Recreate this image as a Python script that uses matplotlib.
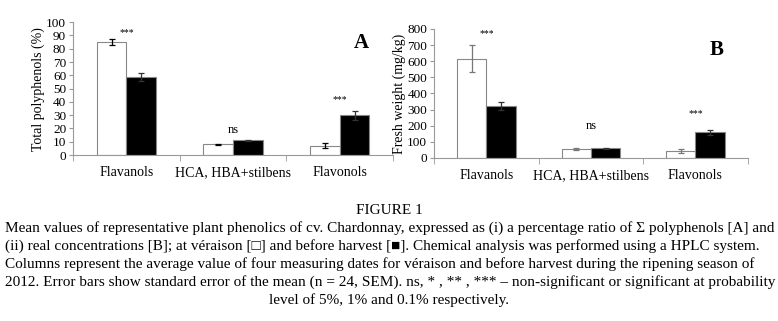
import matplotlib.pyplot as plt
import numpy as np

plt.rcParams['font.family'] = ['Liberation Serif', 'DejaVu Serif']

categories = ['Flavanols', 'HCA, HBA+stilbens', 'Flavonols']

# panel A - percentage of total polyphenols
pct_veraison = [85, 8, 7]
pct_veraison_err = [2, 0.5, 2]
pct_harvest = [59, 11, 30]
pct_harvest_err = [3, 0.4, 3.5]
pct_signif = ['***', 'ns', '***']
pct_signif_y = [89, 14, 38]

# panel B - fresh weight (mg/kg)
fw_veraison = [615, 55, 45]
fw_veraison_err = [85, 5, 12]
fw_harvest = [320, 60, 160]
fw_harvest_err = [25, 4, 15]
fw_signif = ['***', 'ns', '***']
fw_signif_y = [745, 160, 245]

caption_title = 'FIGURE 1'
caption_lines = [
    'Mean values of representative plant phenolics of cv. Chardonnay, expressed as (i) a percentage ratio of \u03a3 polyphenols [A] and',
    '(ii) real concentrations [B]; at v\u00e9raison [\u25a1] and before harvest [\u25a0]. Chemical analysis was performed using a HPLC system.',
    'Columns represent the average value of four measuring dates for v\u00e9raison and before harvest during the ripening season of',
    '2012. Error bars show standard error of the mean (n = 24, SEM). ns, * , ** , *** \u2013 non-significant or significant at probability',
]
caption_last = 'level of 5%, 1% and 0.1% respectively.'


def draw_panel(ax, white, white_err, black, black_err, signif, signif_y,
               ylim, step, ylabel, letter, white_ecolor='black'):
    x = np.arange(len(categories))
    w = 0.28
    ax.bar(x - w / 2, white, w, color='white', edgecolor='#888888', linewidth=0.8)
    ax.bar(x + w / 2, black, w, color='black', edgecolor='#888888', linewidth=0.8)
    ax.errorbar(x - w / 2, white, yerr=white_err, fmt='none', ecolor=white_ecolor,
                elinewidth=0.9, capsize=2.5, capthick=0.9)
    ax.errorbar(x + w / 2, black, yerr=black_err, fmt='none', ecolor='#333333',
                elinewidth=0.9, capsize=2.5, capthick=0.9)
    for xi, s, yy in zip(x, signif, signif_y):
        ax.text(xi, yy, s, ha='center', va='bottom', fontsize=9 if s == 'ns' else 7)
    ax.set_xlim(-0.5, len(categories) - 0.5)
    ax.set_ylim(*ylim)
    ax.set_yticks(np.arange(ylim[0], ylim[1] + 1, step))
    ax.set_xticks(x)
    ax.set_xticklabels(categories, fontsize=10)
    ax.set_xticks(np.arange(-0.5, len(categories)), minor=True)
    ax.tick_params(axis='x', which='major', length=0, pad=8)
    ax.tick_params(axis='x', which='minor', length=4, color='#999999', direction='out')
    ax.tick_params(axis='y', length=3, color='#999999', labelsize=9.5, pad=2)
    for sp in ['top', 'right']:
        ax.spines[sp].set_visible(False)
    for sp in ['left', 'bottom']:
        ax.spines[sp].set_color('#999999')
        ax.spines[sp].set_linewidth(0.8)
    ax.set_ylabel(ylabel, fontsize=10, labelpad=1)
    ax.text(0.9, 0.84, letter, transform=ax.transAxes, fontsize=15,
            fontweight='bold', ha='center', va='center')


fig = plt.figure(figsize=(7.78, 3.21), dpi=100)
ax1 = fig.add_axes([0.094, 0.517, 0.411, 0.414])
ax2 = fig.add_axes([0.558, 0.508, 0.403, 0.402])

draw_panel(ax1, pct_veraison, pct_veraison_err, pct_harvest, pct_harvest_err,
           pct_signif, pct_signif_y, (0, 100), 10, 'Total polyphenols (%)', 'A')
draw_panel(ax2, fw_veraison, fw_veraison_err, fw_harvest, fw_harvest_err,
           fw_signif, fw_signif_y, (0, 800), 100, 'Fresh weight (mg/kg)', 'B',
           white_ecolor='#777777')

fig.text(0.5, 1 - 211 / 321, caption_title, ha='center', va='center', fontsize=11)
for i, line in enumerate(caption_lines):
    fig.text(0.006, 1 - (228 + 18 * i) / 321, line, ha='left', va='center', fontsize=11)
fig.text(0.5, 1 - (228 + 18 * 4) / 321, caption_last, ha='center', va='center', fontsize=11)

fig.savefig('out.png', dpi=100)
